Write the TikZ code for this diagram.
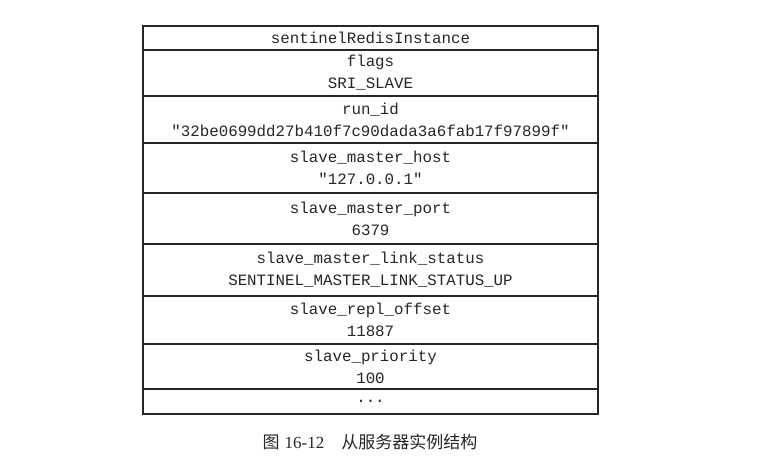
\documentclass[tikz,border=0pt]{standalone}
\usepackage{fontspec}
\setmainfont{Liberation Serif}
\setmonofont{Liberation Mono}
\newfontfamily\cjk{Noto Sans CJK SC}
\usepackage{tikz}
\usetikzlibrary{positioning}

\begin{document}
\begin{tikzpicture}[x=1pt, y=-1pt,
    field/.style={draw=black!85, line width=1.2pt, outer sep=0pt, inner sep=0pt, minimum width=455pt, align=center, text=black!85, font=\fontsize{15.8}{22}\selectfont\ttfamily},
    caption/.style={text=black!85, font=\fontsize{17}{20}\selectfont}
]
\useasboundingbox (0,0) rectangle (781,465);

\node[field, minimum height=24pt, anchor=north] (inst) at (370.5, 26) {sentinelRedisInstance};
\node[field, minimum height=46pt, below=0pt of inst] (flags) {flags\\SRI\_SLAVE};
\node[field, minimum height=47pt, below=0pt of flags] (runid) {run\_id\\"32be0699dd27b410f7c90dada3a6fab17f97899f"};
\node[field, minimum height=50pt, below=0pt of runid] (host) {slave\_master\_host\\"127.0.0.1"};
\node[field, minimum height=51pt, below=0pt of host] (port) {slave\_master\_port\\6379};
\node[field, minimum height=52pt, below=0pt of port] (linkst) {slave\_master\_link\_status\\SENTINEL\_MASTER\_LINK\_STATUS\_UP};
\node[field, minimum height=48pt, below=0pt of linkst] (offset) {slave\_repl\_offset\\11887};
\node[field, minimum height=45pt, below=0pt of offset] (prio) {slave\_priority\\100};
\node[field, minimum height=25pt, below=0pt of prio] (more) {...};

\node[caption] (cap) at (370, 442) {{\cjk 图}\hspace{0.3em}16-12\hspace{1em}{\cjk 从服务器实例结构}};

\end{tikzpicture}
\end{document}
